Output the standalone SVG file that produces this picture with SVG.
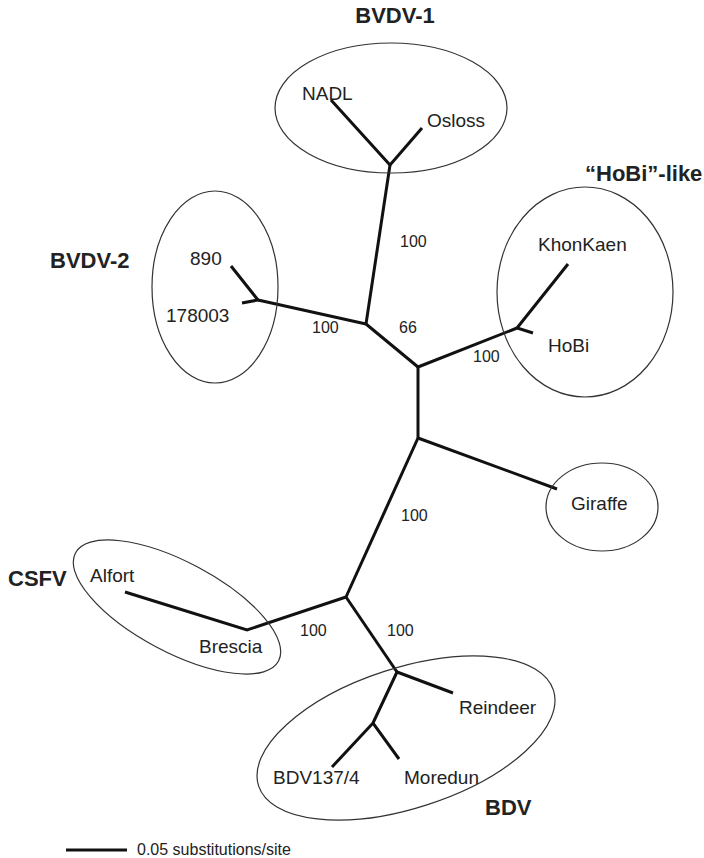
<svg xmlns="http://www.w3.org/2000/svg" width="704" height="858" viewBox="0 0 704 858">
<style>
.br{fill:none;stroke:#111;stroke-width:3;stroke-linecap:butt;stroke-linejoin:miter}
.el{fill:none;stroke:#333;stroke-width:1.2}
.t{font-family:"Liberation Sans",Arial,sans-serif;font-size:19px;fill:#222}
.n{font-family:"Liberation Sans",Arial,sans-serif;font-size:16px;fill:#222}
.g{font-family:"Liberation Sans",Arial,sans-serif;font-size:22px;font-weight:bold;fill:#222}
</style>
<rect width="704" height="858" fill="#fff"/>
<g id="connectors">
<polyline class="br" points="331,100 390,165 422,128"/>
<polyline class="br" points="390,165 366,324"/>
<polyline class="br" points="231,266 258,300 242,303"/>
<polyline class="br" points="258,300 366,324"/>
<polyline class="br" points="366,324 418,367"/>
<polyline class="br" points="418,367 517,328"/>
<polyline class="br" points="568,264 517,328 533,333"/>
<polyline class="br" points="418,367 418,438"/>
<polyline class="br" points="418,438 557,489"/>
<polyline class="br" points="418,438 346,597"/>
<polyline class="br" points="125,592 247,630 346,597"/>
<polyline class="br" points="346,597 397,672"/>
<polyline class="br" points="453,693 397,672 373,723"/>
<polyline class="br" points="332,767 373,723 399,759"/>
</g>
<g id="support">
<text class="n" x="400" y="247">100</text>
<text class="n" x="312" y="333">100</text>
<text class="n" x="399" y="333">66</text>
<text class="n" x="473" y="362">100</text>
<text class="n" x="401" y="521">100</text>
<text class="n" x="300" y="636">100</text>
<text class="n" x="387" y="636">100</text>
</g>
<g id="bvdv1">
<ellipse class="el" cx="391" cy="108" rx="116" ry="65"/>
<text class="g" x="395" y="23" text-anchor="middle">BVDV-1</text>
<text class="t" x="302" y="100">NADL</text>
<text class="t" x="427" y="127">Osloss</text>
</g>
<g id="bvdv2">
<ellipse class="el" cx="215" cy="287" rx="63" ry="96"/>
<text class="g" x="50" y="268">BVDV-2</text>
<text class="t" x="190" y="265">890</text>
<text class="t" x="166" y="322">178003</text>
</g>
<g id="hobi">
<ellipse class="el" cx="585" cy="292" rx="88" ry="105"/>
<text class="g" x="585" y="181">“HoBi”-like</text>
<text class="t" x="538" y="251">KhonKaen</text>
<text class="t" x="548" y="352">HoBi</text>
</g>
<g id="giraffe">
<ellipse class="el" cx="602" cy="507" rx="56" ry="44"/>
<text class="t" x="571" y="510">Giraffe</text>
</g>
<g id="csfv">
<ellipse class="el" cx="177" cy="607" rx="115" ry="45" transform="rotate(28 177 607)"/>
<text class="g" x="8" y="586">CSFV</text>
<text class="t" x="90" y="582">Alfort</text>
<text class="t" x="199" y="653">Brescia</text>
</g>
<g id="bdv">
<ellipse class="el" cx="406" cy="738" rx="155" ry="70" transform="rotate(-18 406 738)"/>
<text class="g" x="485" y="815">BDV</text>
<text class="t" x="459" y="714">Reindeer</text>
<text class="t" x="273" y="784">BDV137/4</text>
<text class="t" x="404" y="784">Moredun</text>
</g>
<g id="scale">
<line class="br" x1="66" y1="850" x2="127" y2="850"/>
<text class="n" x="137" y="855">0.05 substitutions/site</text>
</g>
</svg>
